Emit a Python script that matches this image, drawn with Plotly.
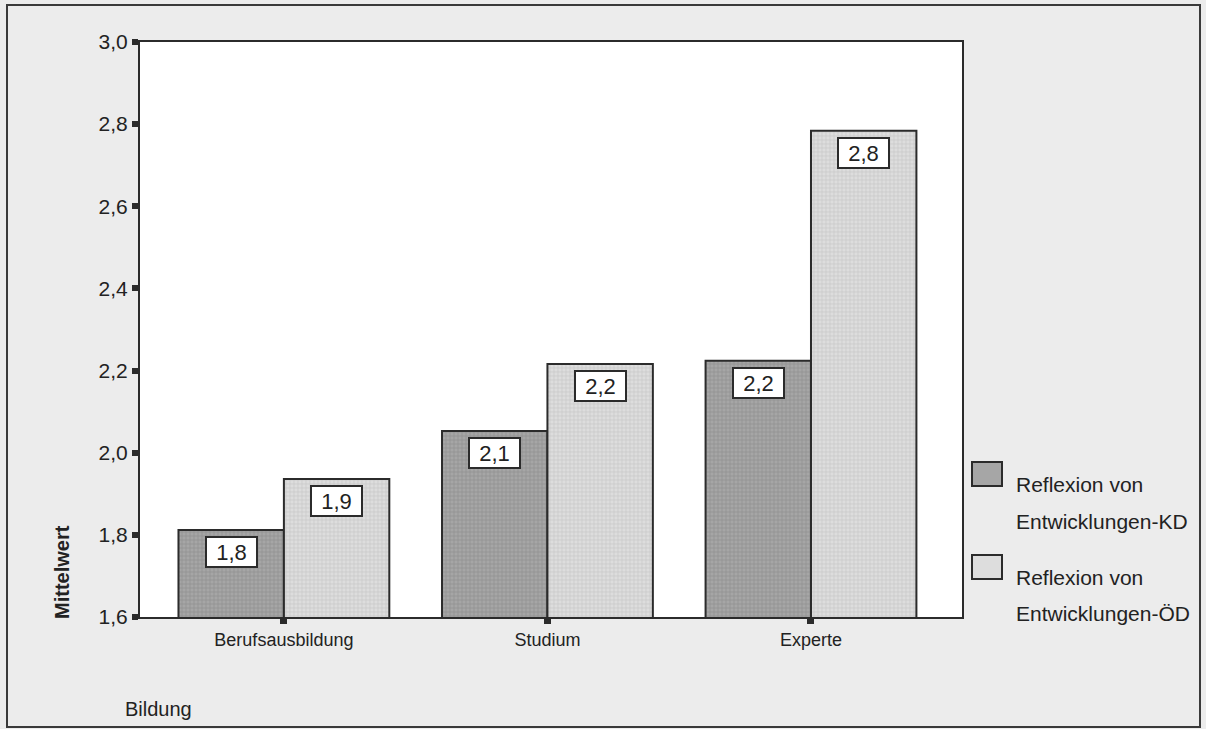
import plotly.graph_objects as go

# Mean values per education level
categories = ["Berufsausbildung", "Studium", "Experte"]
series_names = ["Reflexion von Entwicklungen-KD", "Reflexion von Entwicklungen-ÖD"]
values_kd = [1.812, 2.053, 2.224]
values_od = [1.936, 2.216, 2.784]
y_ticks = [1.6, 1.8, 2.0, 2.2, 2.4, 2.6, 2.8, 3.0]

W, H = 1206, 729
ML, MR, MT, MB = 140, 244, 42, 112
PW, PH = W - ML - MR, H - MT - MB

FONT = "Liberation Sans, Arial, sans-serif"
DARK = "#2b2b2b"
KD_FILL, KD_FG = "#a6a6a6", "#909090"
OD_FILL, OD_FG = "#dddddd", "#c6c6c6"


def px(xp):
    return (xp - ML) / PW


def py(yp):
    return (H - MB - yp) / PH


fig = go.Figure()
fig.add_trace(go.Bar(
    x=categories, y=values_kd, name=series_names[0],
    marker=dict(color=KD_FILL, line=dict(color=DARK, width=2),
                pattern=dict(shape="+", bgcolor=KD_FILL, fgcolor=KD_FG,
                             size=4, solidity=0.35, fillmode="replace")),
    showlegend=False,
))
fig.add_trace(go.Bar(
    x=categories, y=values_od, name=series_names[1],
    marker=dict(color=OD_FILL, line=dict(color=DARK, width=2),
                pattern=dict(shape="+", bgcolor=OD_FILL, fgcolor=OD_FG,
                             size=4, solidity=0.3, fillmode="replace")),
    showlegend=False,
))

# value boxes just under the top of each bar
for offset, vals in ((-0.2, values_kd), (0.2, values_od)):
    for i, v in enumerate(vals):
        fig.add_annotation(
            x=i + offset, y=v, xref="x", yref="y",
            text=f"{v:.1f}".replace(".", ","),
            showarrow=False, yanchor="top", yshift=-6,
            font=dict(family=FONT, size=22, color="#222"),
            bgcolor="white", bordercolor=DARK, borderwidth=2,
            borderpad=1, width=47, height=26,
        )

shapes = []
# framed background border
shapes.append(dict(type="rect", xref="paper", yref="paper",
                   x0=px(7), x1=px(1200), y0=py(727), y1=py(5),
                   line=dict(color="#3a3a3a", width=2), fillcolor="rgba(0,0,0,0)",
                   layer="above"))
# legend swatches
shapes.append(dict(type="rect", xref="paper", yref="paper",
                   x0=px(972), x1=px(1002), y0=py(486), y1=py(462),
                   line=dict(color=DARK, width=2), fillcolor=KD_FILL))
shapes.append(dict(type="rect", xref="paper", yref="paper",
                   x0=px(972), x1=px(1002), y0=py(579), y1=py(555),
                   line=dict(color=DARK, width=2), fillcolor=OD_FILL))

legend_lines = [
    ("Reflexion von", 484), ("Entwicklungen-KD", 521),
    ("Reflexion von", 577), ("Entwicklungen-ÖD", 613),
]
for txt, yy in legend_lines:
    fig.add_annotation(x=px(1014), y=py(yy), xref="paper", yref="paper",
                       text=txt, showarrow=False, xanchor="left", yanchor="middle",
                       font=dict(family=FONT, size=21, color="#222"))

fig.add_annotation(x=px(62), y=py(572), xref="paper", yref="paper",
                   text="<b>Mittelwert</b>", textangle=-90, showarrow=False,
                   xanchor="center", yanchor="middle",
                   font=dict(family=FONT, size=20, color="#222"))
fig.add_annotation(x=px(123), y=py(709), xref="paper", yref="paper",
                   text="Bildung", showarrow=False, xanchor="left", yanchor="middle",
                   font=dict(family=FONT, size=20, color="#222"))

fig.update_layout(
    width=W, height=H,
    margin=dict(l=ML, r=MR, t=MT, b=MB),
    paper_bgcolor="#ececec", plot_bgcolor="white",
    barmode="group", bargap=0.2, bargroupgap=0,
    separators=",.",
    shapes=shapes,
    font=dict(family=FONT, color="#222"),
    xaxis=dict(type="category", range=[-0.546, 2.573],
               showline=True, linecolor=DARK, linewidth=2, mirror=True,
               ticks="outside", ticklen=5, tickwidth=7, tickcolor=DARK,
               tickfont=dict(family=FONT, size=18, color="#222"),
               showgrid=False, zeroline=False, fixedrange=True),
    yaxis=dict(range=[1.6, 3.0], tickvals=y_ticks, tickformat=".1f",
               showline=True, linecolor=DARK, linewidth=2, mirror=True,
               ticks="outside", ticklen=6, tickwidth=6, tickcolor=DARK,
               tickfont=dict(family=FONT, size=21, color="#222"),
               showgrid=False, zeroline=False, fixedrange=True),
)

fig.write_html("out.html")
